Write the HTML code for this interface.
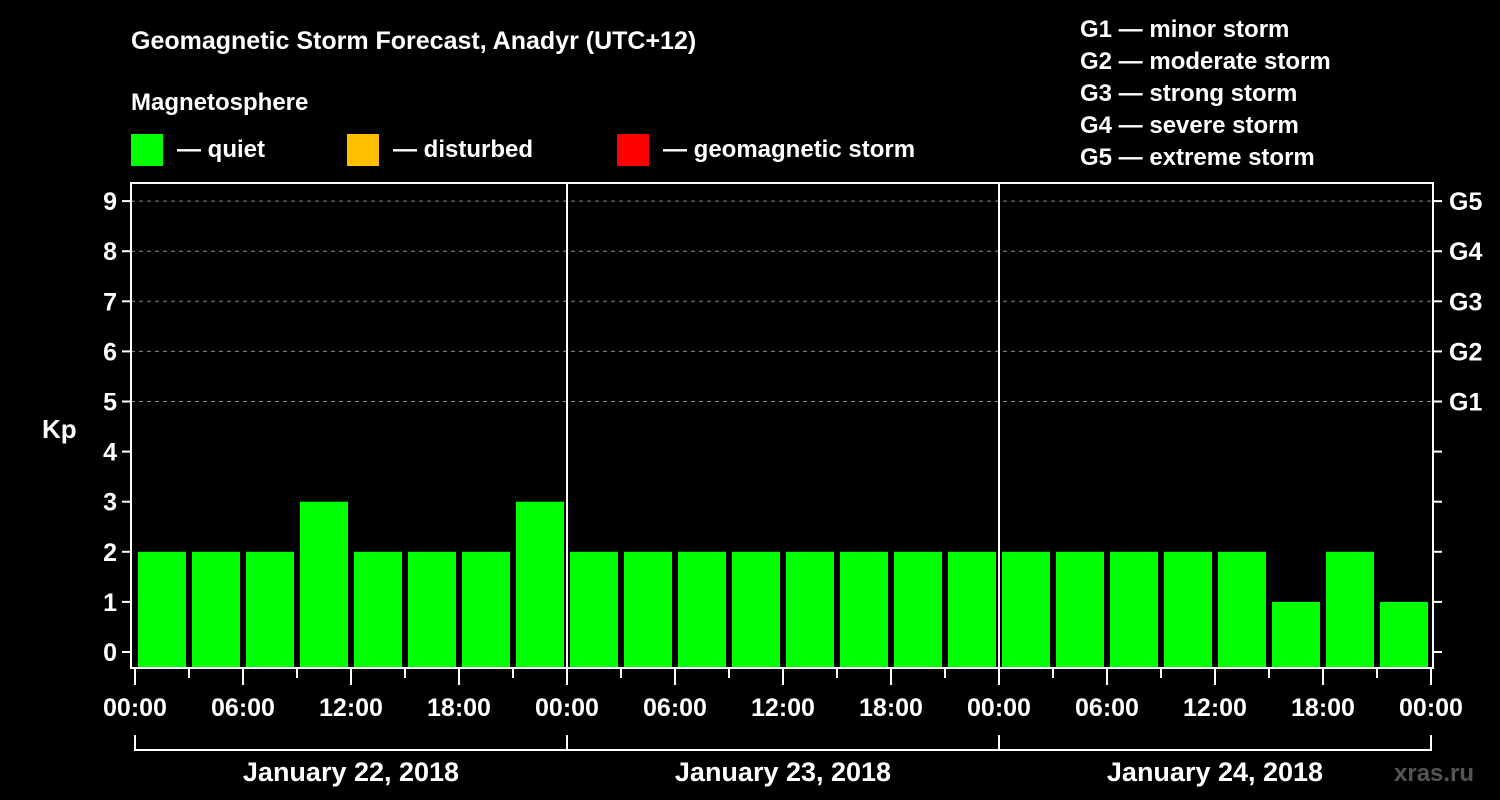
<!DOCTYPE html>
<html><head><meta charset="utf-8"><style>
html,body{margin:0;padding:0;background:#000;}
svg{display:block;}
text{font-family:"Liberation Sans",sans-serif;font-weight:bold;fill:#fff;}
</style></head><body>
<svg id="chart" width="1500" height="800" viewBox="0 0 1500 800">
<text x="131" y="49" font-size="25">Geomagnetic Storm Forecast, Anadyr (UTC+12)</text>
<text x="131" y="110" font-size="24">Magnetosphere</text>
<g>
<rect x="131" y="134" width="32" height="32" fill="#00ff00"/>
<text x="177" y="157" font-size="24">— quiet</text>
<rect x="347" y="134" width="32" height="32" fill="#ffbf00"/>
<text x="393" y="157" font-size="24">— disturbed</text>
<rect x="617" y="134" width="32" height="32" fill="#ff0000"/>
<text x="663" y="157" font-size="24">— geomagnetic storm</text>
</g>
<g font-size="24">
<text x="1080" y="37">G1 — minor storm</text>
<text x="1080" y="69">G2 — moderate storm</text>
<text x="1080" y="101">G3 — strong storm</text>
<text x="1080" y="133">G4 — severe storm</text>
<text x="1080" y="165">G5 — extreme storm</text>
</g>
<text x="42" y="438" font-size="26">Kp</text>
<text x="1394" y="781" font-size="24" fill="#555" style="fill:#555">xras.ru</text>
<g id="plot"></g>
</svg>
<script>
const kpValues = [2,2,2,3,2,2,2,3, 2,2,2,2,2,2,2,2, 2,2,2,2,2,1,2,1];
const dayLabels = ["January 22, 2018","January 23, 2018","January 24, 2018"];
const hourLabels = ["00:00","06:00","12:00","18:00"];
const yTicks = [0,1,2,3,4,5,6,7,8,9];
const gLabels = ["G1","G2","G3","G4","G5"];
const gLevels = [5,6,7,8,9];

const NS="http://www.w3.org/2000/svg";
const g=document.getElementById('plot');
const X0=135, DAYW=432, Y0=652, YU=50.1, TOP=183, BOT=668, LEFT=131, RIGHT=1433;
const xPos=h=>X0+h/24*DAYW;
const yPos=v=>Y0-v*YU;
function mk(tag,a){const e=document.createElementNS(NS,tag);for(const k in a)e.setAttribute(k,a[k]);g.appendChild(e);return e;}
function color(v){return v<4?"#00ff00":(v<5?"#ffbf00":"#ff0000");}

yTicks.forEach(v=>{
  if(v>=5){const l=mk('line',{x1:LEFT,x2:RIGHT,y1:yPos(v),y2:yPos(v),stroke:'#888','stroke-width':1,'stroke-dasharray':'4,4'});
  
  }
  const t=mk('line',{x1:LEFT-9,x2:LEFT,y1:yPos(v),y2:yPos(v),stroke:'#fff','stroke-width':2});
  
  
  const rt=mk('line',{x1:RIGHT,x2:RIGHT+9,y1:yPos(v),y2:yPos(v),stroke:'#fff','stroke-width':2});
  
  
  const tx=mk('text',{x:LEFT-14,y:yPos(v)+9,'font-size':25,'text-anchor':'end'});
  tx.textContent=v;
  
  
});
gLabels.forEach((s,i)=>{
  const tx=mk('text',{x:1449,y:yPos(gLevels[i])+9,'font-size':25});
  tx.textContent=s;
  
  
});
kpValues.forEach((v,i)=>{
  const x=xPos(i*3)+3, w=xPos(3)-X0-6;
  const r=mk('rect',{x:x,y:yPos(v),width:w,height:BOT-yPos(v),fill:color(v)});
  
  
});
for(let d=1;d<dayLabels.length;d++){
  const l=mk('line',{x1:xPos(d*24),x2:xPos(d*24),y1:TOP,y2:BOT,stroke:'#fff','stroke-width':2});
  
  
}
const fr=mk('rect',{x:LEFT,y:TOP,width:RIGHT-LEFT,height:BOT-TOP,fill:'none',stroke:'#fff','stroke-width':2});


for(let h=0;h<=72;h+=3){
  const major=h%6===0;
  const t=mk('line',{x1:xPos(h),x2:xPos(h),y1:BOT,y2:BOT+(major?17:10),stroke:'#fff','stroke-width':2});
  
  
  if(major){
    const tx=mk('text',{x:xPos(h),y:716,'font-size':25,'text-anchor':'middle'});
    tx.textContent=hourLabels[(h/6)%4];
    
    
  }
}
const br=mk('path',{d:`M${xPos(0)},735 V750 H${xPos(72)} V735`,fill:'none',stroke:'#fff','stroke-width':2});


for(let d=1;d<dayLabels.length;d++){
  const l=mk('line',{x1:xPos(d*24),x2:xPos(d*24),y1:735,y2:750,stroke:'#fff','stroke-width':2});
  
  
}
dayLabels.forEach((s,d)=>{
  const tx=mk('text',{x:xPos(d*24+12),y:781,'font-size':27,'text-anchor':'middle'});
  tx.textContent=s;
  
  
});
</script>
</body></html>
